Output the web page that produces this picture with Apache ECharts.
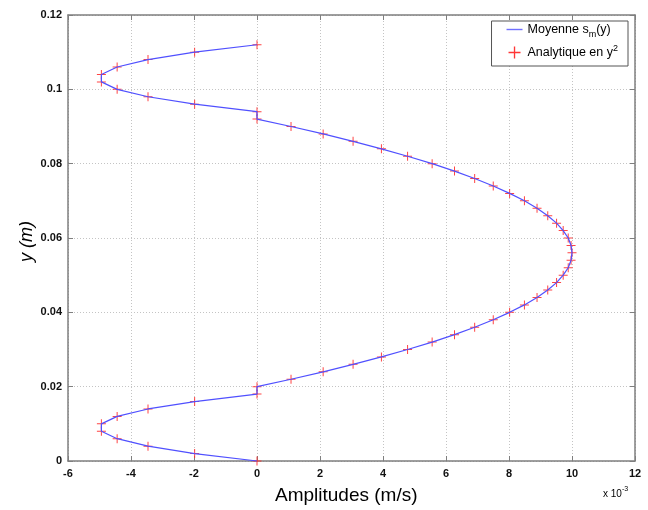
<!DOCTYPE html>
<html>
<head>
<meta charset="utf-8">
<script src="https://cdn.jsdelivr.net/npm/echarts@6/dist/echarts.min.js"></script>
<style>html,body{margin:0;padding:0;background:#fff;}#c{width:648px;height:510px;}</style>
</head>
<body>
<div id="c"></div>
<script>
// y positions (m)
const yValues = [0, 0.002, 0.004, 0.006, 0.008, 0.010, 0.012, 0.014, 0.016, 0.018,
  0.020, 0.022, 0.024, 0.026, 0.028, 0.030, 0.032, 0.034, 0.036, 0.038,
  0.040, 0.042, 0.044, 0.046, 0.048, 0.050, 0.052, 0.054, 0.056, 0.058,
  0.060, 0.062, 0.064, 0.066, 0.068, 0.070, 0.072, 0.074, 0.076, 0.078,
  0.080, 0.082, 0.084, 0.086, 0.088, 0.090, 0.092, 0.094, 0.096, 0.098,
  0.100, 0.102, 0.104, 0.106, 0.108, 0.110, 0.112];
// Moyenne s_m(y), amplitudes in units of 1e-3 m/s
const meanAmp = [0, -1.98, -3.46, -4.44, -4.94, -4.94, -4.44, -3.46, -1.98, 0,
  0, 1.08, 2.10, 3.05, 3.95, 4.78, 5.56, 6.27, 6.91, 7.50,
  8.02, 8.49, 8.89, 9.23, 9.51, 9.72, 9.88, 9.97, 10.00, 9.97,
  9.88, 9.72, 9.51, 9.23, 8.89, 8.49, 8.02, 7.50, 6.91, 6.27,
  5.56, 4.78, 3.95, 3.05, 2.10, 1.08, 0, 0, -1.98, -3.46,
  -4.44, -4.94, -4.94, -4.44, -3.46, -1.98, 0];
// Analytique en y^2, amplitudes in units of 1e-3 m/s
const analyticAmp = [0, -1.98, -3.46, -4.44, -4.94, -4.94, -4.44, -3.46, -1.98, 0,
  0, 1.08, 2.10, 3.05, 3.95, 4.78, 5.56, 6.27, 6.91, 7.50,
  8.02, 8.49, 8.89, 9.23, 9.51, 9.72, 9.88, 9.97, 10.00, 9.97,
  9.88, 9.72, 9.51, 9.23, 8.89, 8.49, 8.02, 7.50, 6.91, 6.27,
  5.56, 4.78, 3.95, 3.05, 2.10, 1.08, 0, 0, -1.98, -3.46,
  -4.44, -4.94, -4.94, -4.44, -3.46, -1.98, 0];
const xTicks = [-6, -4, -2, 0, 2, 4, 6, 8, 10, 12];
const yTicks = [0, 0.02, 0.04, 0.06, 0.08, 0.1, 0.12];

const lineData = yValues.map((y, i) => [meanAmp[i], y]);
const markData = yValues.map((y, i) => [analyticAmp[i], y]);
const plusPath = 'path://M4,0 L5,0 L5,4 L9,4 L9,5 L5,5 L5,9 L4,9 L4,5 L0,5 L0,4 L4,4 Z';
const FONT = 'Liberation Sans';
const axisGray = '#7f7f7f';

const chart = echarts.init(document.getElementById('c'), null, {renderer: 'canvas'});
chart.setOption({
  animation: false,
  backgroundColor: '#fff',
  grid: {left: 68, right: 13, top: 15, bottom: 49, containLabel: false},
  xAxis: [{
    type: 'value', min: xTicks[0], max: xTicks[xTicks.length - 1], interval: 2,
    axisLine: {show: true, lineStyle: {color: axisGray, width: 1.5}},
    axisTick: {show: true, inside: true, length: 5, lineStyle: {color: axisGray}},
    axisLabel: {color: '#111', fontFamily: FONT, fontSize: 11, fontWeight: 'bold', margin: 7},
    splitLine: {show: true, lineStyle: {color: '#c4c4c4', type: [1, 2], width: 1}}
  }, {
    type: 'value', position: 'top', min: xTicks[0], max: xTicks[xTicks.length - 1], interval: 2,
    axisLine: {show: true, onZero: false, lineStyle: {color: axisGray, width: 1.5}},
    axisTick: {show: true, inside: true, length: 5, lineStyle: {color: axisGray}},
    axisLabel: {show: false}, splitLine: {show: false}
  }],
  yAxis: [{
    type: 'value', min: yTicks[0], max: yTicks[yTicks.length - 1], interval: 0.02,
    axisLine: {show: true, onZero: false, lineStyle: {color: axisGray, width: 1.5}},
    axisTick: {show: true, inside: true, length: 5, lineStyle: {color: axisGray}},
    axisLabel: {color: '#111', fontFamily: FONT, fontSize: 11, fontWeight: 'bold', margin: 6},
    splitLine: {show: true, lineStyle: {color: '#c4c4c4', type: [1, 2], width: 1}}
  }, {
    type: 'value', position: 'right', min: yTicks[0], max: yTicks[yTicks.length - 1], interval: 0.02,
    axisLine: {show: true, onZero: false, lineStyle: {color: axisGray, width: 1.5}},
    axisTick: {show: true, inside: true, length: 5, lineStyle: {color: axisGray}},
    axisLabel: {show: false}, splitLine: {show: false}
  }],
  legend: {
    orient: 'vertical', right: 20, top: 21,
    backgroundColor: '#fff', borderColor: '#555', borderWidth: 1,
    padding: [2, 10, 7, 15], itemGap: 5, itemWidth: 16, itemHeight: 12,
    textStyle: {fontFamily: FONT, fontSize: 12.5, color: '#000',
      rich: {
        a: {fontFamily: FONT, fontSize: 12.5, color: '#000'},
        sub: {fontFamily: FONT, fontSize: 9, color: '#000', padding: [10, 0, 0, 0]},
        sup: {fontFamily: FONT, fontSize: 9, color: '#000', padding: [0, 0, 8, 0]}
      }},
    data: [
      {name: 'Moyenne', icon: 'path://M0,0 L16,0 L16,1.4 L0,1.4 Z',
        itemStyle: {color: '#7070ff', borderWidth: 0}},
      {name: 'Analytique', icon: plusPath, itemStyle: {color: '#ff2020', borderWidth: 0}}
    ],
    formatter: function (n) {
      if (n === 'Moyenne') return '{a|Moyenne s}{sub|m}{a|(y)}';
      return '{a|Analytique en y}{sup|2}';
    }
  },
  series: [{
    name: 'Moyenne', type: 'line', data: lineData, xAxisIndex: 0, yAxisIndex: 0,
    showSymbol: false, symbol: 'none', clip: false,
    lineStyle: {color: '#5050ff', width: 1.2}, itemStyle: {color: '#7070ff'}, z: 3
  }, {
    name: 'Analytique', type: 'scatter', data: markData, xAxisIndex: 0, yAxisIndex: 0,
    symbol: plusPath, symbolSize: 9, clip: false,
    itemStyle: {color: '#ff3030', opacity: 0.9}, z: 2
  }],
  graphic: [
    {type: 'text', left: 275, top: 486, style: {text: 'Amplitudes (m/s)', fontFamily: FONT, fontSize: 19, fill: '#000'}},
    {type: 'text', x: 18, y: 262, rotation: Math.PI / 2,
      style: {text: 'y (m)', fontFamily: FONT, fontSize: 18, fontStyle: 'italic', fill: '#000'}},
    {type: 'text', left: 603, top: 486, style: {
      text: '{a|x 10}{sup|-3}', fontFamily: FONT,
      rich: {a: {fontFamily: FONT, fontSize: 10, fill: '#000', padding: [4, 0, 0, 0]},
             sup: {fontFamily: FONT, fontSize: 7, fill: '#000', padding: [0, 0, 6, 0]}}}}
  ]
});
</script>
</body>
</html>
